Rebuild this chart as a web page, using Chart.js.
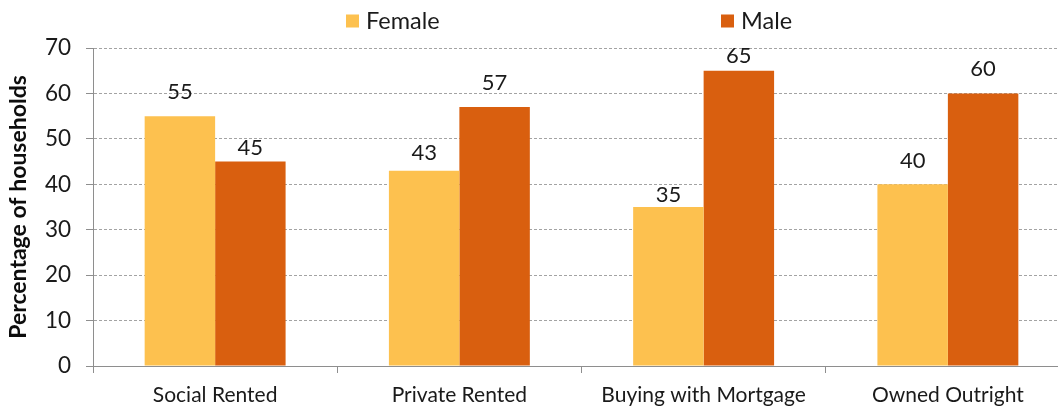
<!DOCTYPE html>
<html>
<head>
<meta charset="utf-8">
<script src="https://cdn.jsdelivr.net/npm/chart.js@4/dist/chart.umd.min.js"></script>
<style>
  html, body { margin: 0; padding: 0; background: #fff; }
  .frame { width: 1058px; height: 410px; overflow: hidden; }
  .wrap { position: relative; width: 1072px; height: 410px; }
</style>
</head>
<body>
<div class="frame"><div class="wrap"><canvas id="myChart"></canvas></div></div>
<script>
const tenures = ['Social Rented', 'Private Rented', 'Buying with Mortgage', 'Owned Outright'];
const female = [55, 43, 35, 40];
const male = [45, 57, 65, 60];
const yTicks = [0, 10, 20, 30, 40, 50, 60, 70];

// gap in px between each value label and the top of its bar
const femaleLift = [17, 11, 5, 16];
const maleLift = [7, 17, 8, 17];

const FONT = 'Lato, "Open Sans", sans-serif';
const TEXT = '#1a1a1a';

// value printed above every bar
const barValues = {
  id: 'barValues',
  afterDatasetsDraw(chart) {
    const ctx = chart.ctx;
    ctx.save();
    ctx.font = '22px ' + FONT;
    ctx.fillStyle = TEXT;
    ctx.textAlign = 'center';
    ctx.textBaseline = 'alphabetic';
    chart.data.datasets.forEach((ds, i) => {
      chart.getDatasetMeta(i).data.forEach((bar, j) => {
        ctx.fillText(ds.data[j], bar.x, bar.y - ds.lift[j]);
      });
    });
    ctx.restore();
  }
};

// legend row across the top, items spread wide apart
const wideLegend = {
  id: 'wideLegend',
  afterDraw(chart, args, opts) {
    const ctx = chart.ctx;
    ctx.save();
    ctx.font = '23.5px ' + FONT;
    ctx.textBaseline = 'middle';
    ctx.textAlign = 'left';
    chart.data.datasets.forEach((ds, i) => {
      const x = opts.left + i * opts.step;
      ctx.fillStyle = ds.backgroundColor;
      ctx.fillRect(x, opts.y - 6.5, 13, 13);
      ctx.fillStyle = TEXT;
      ctx.fillText(ds.label, x + 20, opts.y);
    });
    ctx.restore();
  }
};

const ctx = document.getElementById('myChart').getContext('2d');

new Chart(ctx, {
  type: 'bar',
  data: {
    labels: tenures,
    datasets: [
      { label: 'Female', data: female, lift: femaleLift, backgroundColor: '#FDC14F' },
      { label: 'Male', data: male, lift: maleLift, backgroundColor: '#D95F0F' }
    ]
  },
  plugins: [barValues, wideLegend],
  options: {
    responsive: true,
    maintainAspectRatio: false,
    animation: false,
    categoryPercentage: 0.577,
    barPercentage: 1.0,
    layout: { padding: { top: 48, right: 2, left: 0, bottom: 0 } },
    plugins: {
      legend: { display: false },
      tooltip: { enabled: false },
      wideLegend: { left: 346, step: 375, y: 21 }
    },
    scales: {
      x: {
        afterFit(scale) { scale.height = 44; },
        grid: {
          display: true,
          drawOnChartArea: false,
          drawTicks: true,
          tickLength: 7,
          tickColor: '#8e8e8e',
          offset: true
        },
        border: { color: '#8e8e8e', width: 1 },
        ticks: {
          color: TEXT,
          font: { family: FONT, size: 21 },
          padding: 10,
          maxRotation: 0,
          autoSkip: false
        }
      },
      y: {
        min: 0,
        max: 70,
        afterFit(scale) { scale.width = 93; },
        afterBuildTicks(scale) { scale.ticks = yTicks.map(v => ({ value: v })); },
        grid: {
          color: '#a3a3a3',
          lineWidth: 1,
          tickLength: 7,
          tickColor: '#8e8e8e',
          tickBorderDash: []
        },
        border: { color: '#8e8e8e', width: 1, dash: [3, 2] },
        ticks: {
          color: TEXT,
          font: { family: FONT, size: 22.5 },
          padding: 15
        },
        title: {
          display: true,
          text: 'Percentage of households',
          color: '#0d0d0d',
          font: { family: FONT, size: 23, weight: 'bold' },
          padding: { top: 5, bottom: 0 }
        }
      }
    }
  }
});
</script>
</body>
</html>
